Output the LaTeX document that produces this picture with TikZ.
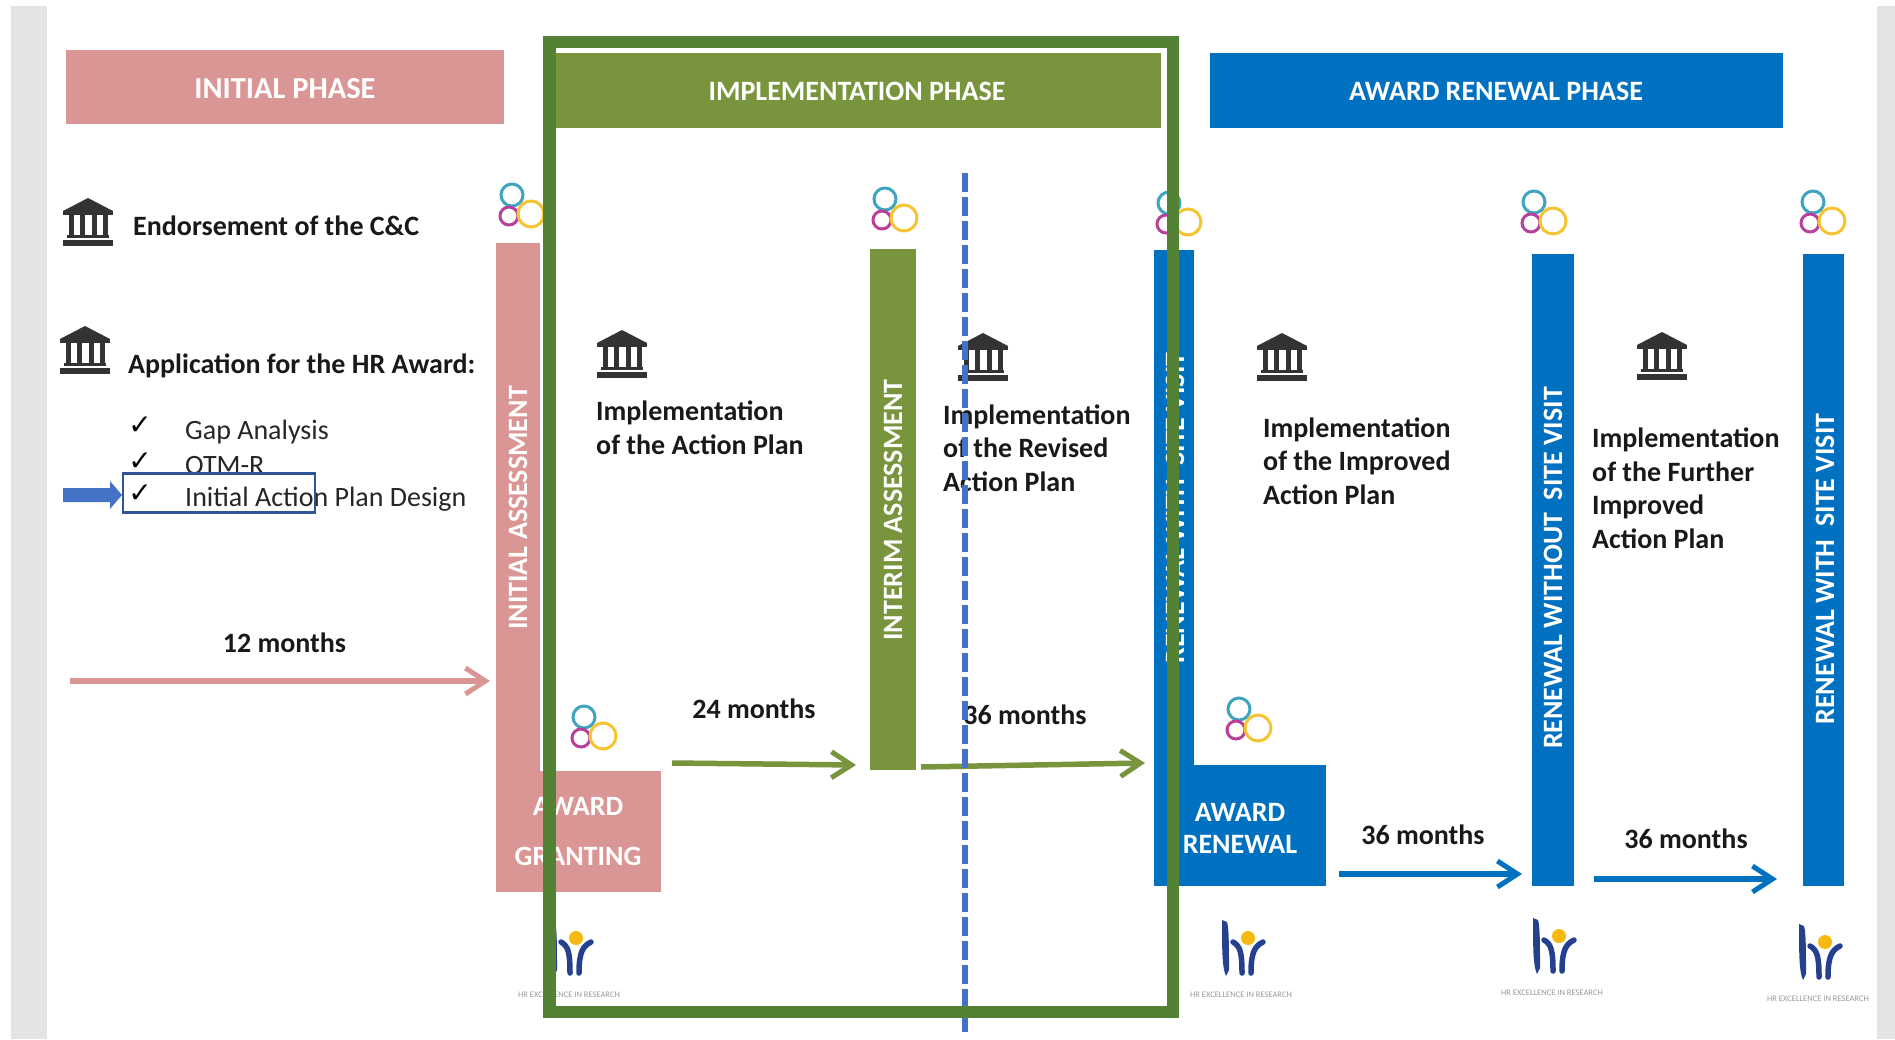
\documentclass[tikz,border=0pt]{standalone}
\usepackage{fontspec}
\setmainfont{Carlito}
\newfontfamily\symfont{DejaVu Sans}
\usetikzlibrary{arrows.meta}
\definecolor{pinkc}{HTML}{DA9694}
\definecolor{olivec}{HTML}{78943C}
\definecolor{framec}{HTML}{548235}
\definecolor{bluec}{HTML}{0070C0}
\definecolor{dashc}{HTML}{4472C4}
\definecolor{boxc}{HTML}{2F5597}
\definecolor{stripc}{HTML}{E4E4E4}
\definecolor{iconc}{HTML}{333333}
\definecolor{tealc}{HTML}{3FA5BE}
\definecolor{magc}{HTML}{B8409B}
\definecolor{yelc}{HTML}{F5C430}
\definecolor{navyc}{HTML}{25408F}
\definecolor{dotc}{HTML}{F7B90F}
\tikzset{
  panel/.style={inner sep=0pt,outer sep=0pt,align=center,text=white,font=\fontsize{28}{32}\selectfont\bfseries},
  bartext/.style={inner sep=0pt,rotate=90,text=white,font=\fontsize{28}{30}\selectfont\bfseries},
  label/.style={inner sep=0pt,anchor=west,align=left,text=black!90,font=\fontsize{28}{33.5}\selectfont\bfseries},
  months/.style={inner sep=0pt,text=black!90,font=\fontsize{28}{30}\selectfont\bfseries},
  item/.style={inner sep=0pt,anchor=west,text=black!85,font=\fontsize{28}{30}\selectfont},
  tick/.style={inner sep=0pt,text=black,font=\fontsize{28}{30}\selectfont\symfont},
  flow/.style={line width=5.5pt,-{Straight Barb[length=20pt,width=26pt,line width=5pt]}},
  bankicon/.pic={
    \fill[iconc] (-25,-11) -- (0,-24) -- (25,-11) -- cycle;
    \fill[iconc] (-25,-11) rectangle (25,-7);
    \foreach \cx in {-17,-6,6,17} \fill[iconc] (\cx-2.5,-7) rectangle (\cx+2.5,13);
    \fill[iconc] (-21,13) rectangle (21,16);
    \fill[iconc] (-25,18) rectangle (25,24);
  },
  ringsicon/.pic={
    \draw[tealc,line width=3pt] (-9,-10) circle[radius=11pt];
    \draw[magc,line width=3pt] (-12,11) circle[radius=9pt];
    \draw[yelc,line width=3pt] (10,9) circle[radius=13pt];
  },
  hrmark/.pic={
    \fill[dotc] (0,0) circle[radius=7pt];
    \fill[navyc] (-26,-18) -- (-21,-16) .. controls (-19,-10) and (-19,10) .. (-19,32) -- (-22,38) .. controls (-26,30) and (-26,10) .. (-26,-18) -- cycle;
    \draw[navyc,line width=5.5pt,line cap=round] (-15,4) .. controls (-8,8) and (-6,14) .. (-6,35);
    \draw[navyc,line width=5.5pt,line cap=round] (15,4) .. controls (7,8) and (3,14) .. (3,35);
    \node[inner sep=0pt,text=black!40,font=\fontsize{8.5}{9}\selectfont] at (-7,57) {HR EXCELLENCE IN RESEARCH};
  }
}
\begin{document}
\begin{tikzpicture}[x=1pt,y=-1pt]
\useasboundingbox (0,0) rectangle (1895,1039);
\fill[white] (0,0) rectangle (1895,1039);
\fill[stripc] (11,6) rectangle (47,1039);
\fill[stripc] (1877,6) rectangle (1895,1039);

% phase headers
\node[panel,fill=pinkc,minimum width=438pt,minimum height=74pt] (hinit) at (285,87) {};
\node[panel,font=\fontsize{30.5}{32}\selectfont\bfseries] (hinitt) at (285,89) {INITIAL PHASE};
\node[panel,fill=olivec,minimum width=604.5pt,minimum height=75pt] (himpl) at (858.25,90.5) {};
\node[panel] (himplt) at (857,91.5) {IMPLEMENTATION PHASE};
\node[panel,fill=bluec,minimum width=573pt,minimum height=75pt] (hrenew) at (1496.5,90.5) {};
\node[panel] (hrenewt) at (1496,91.5) {AWARD RENEWAL PHASE};

% bars
\node[panel,fill=pinkc,minimum width=44.5pt,minimum height=649pt] (barinit) at (517.75,567.5) {};
\node[panel,fill=pinkc,minimum width=165.5pt,minimum height=121pt] (granting) at (578.25,831.5) {};
\node[panel] (grantingA) at (578,806) {AWARD};
\node[panel] (grantingB) at (578,856) {GRANTING};
\node[panel,fill=olivec,minimum width=46pt,minimum height=521pt] (barinterim) at (893,509.5) {};
\node[panel,fill=bluec,minimum width=40pt,minimum height=636pt] (barrenew) at (1174,568) {};
\node[panel,fill=bluec,minimum width=172pt,minimum height=121pt] (renewbox) at (1240,825.5) {};
\node[panel] (renewA) at (1240,812) {AWARD};
\node[panel] (renewB) at (1240,844) {RENEWAL};
\node[panel,fill=bluec,minimum width=42pt,minimum height=632pt] (barwo) at (1553,570) {};
\node[panel,fill=bluec,minimum width=41pt,minimum height=632pt] (barwith) at (1823.5,570) {};

\node[bartext] (tinit) at (518,508) {INITIAL ASSESSMENT};
\node[bartext] (tinterim) at (893,510) {INTERIM ASSESSMENT};
\node[bartext] (trenew) at (1175,508) {RENEWAL WITH\ \ SITE VISIT};
\node[bartext] (two) at (1553,568) {RENEWAL WITHOUT\ \ SITE VISIT};
\node[bartext] (twith) at (1825,569) {RENEWAL WITH\ \ SITE VISIT};

% left column
\node[label] (endorse) at (133,226) {Endorsement of the C\&C};
\node[label] (apply) at (128,366) {Application for the HR Award:};
\node[tick] (t1) at (140,426) {✓};
\node[tick] (t2) at (140,462) {✓};
\node[tick] (t3) at (140,494) {✓};
\node[item] (gap) at (185,432.5) {Gap Analysis};
\begin{scope}
  \clip (170,440) rectangle (320,473);
  \node[item] (otm) at (185,466) {OTM-R};
\end{scope}
\node[item] (iap) at (185,499.5) {Initial Action Plan Design};
\node[draw=boxc,line width=2.5pt,inner sep=0pt,minimum width=192pt,minimum height=39pt] (hibox) at (219,493) {};
\fill[dashc] (63,488) -- (110,488) -- (110,481) -- (122,495) -- (110,509) -- (110,502) -- (63,502) -- cycle;

% implementation labels
\node[label] (impA) at (596,428) {Implementation\\of the Action Plan};
\node[label] (impB) at (943,448) {Implementation\\of the Revised\\Action Plan};
\node[label] (impC) at (1263,461) {Implementation\\of the Improved\\Action Plan};
\node[label] (impD) at (1592,488) {Implementation\\of the Further\\Improved\\Action Plan};

% durations
\node[months] (m12) at (284.5,642.5) {12 months};
\node[months] (m24) at (754,709) {24 months};
\node[months] (m36a) at (1025,715) {36 months};
\node[months] (m36b) at (1423,835) {36 months};
\node[months] (m36c) at (1686,839) {36 months};

% icons
\pic at (88,222) {bankicon};
\pic at (85,350) {bankicon};
\pic at (622,354) {bankicon};
\pic at (983,357) {bankicon};
\pic at (1282,357) {bankicon};
\pic at (1662,356) {bankicon};
\pic at (521,205) {ringsicon};
\pic at (894,209) {ringsicon};
\pic at (1178,213) {ringsicon};
\pic at (1543,212) {ringsicon};
\pic at (1822,212) {ringsicon};
\pic at (593,727) {ringsicon};
\pic at (1248,719) {ringsicon};
\pic at (576,938) {hrmark};
\pic at (1248,938) {hrmark};
\pic at (1559,936) {hrmark};
\pic at (1825,942) {hrmark};

% arrows
\coordinate (a1s) at (70,681);
\coordinate (a1e) at (490,681);
\coordinate (a2s) at (672,763);
\coordinate (a2e) at (856,765);
\coordinate (a3s) at (921,767);
\coordinate (a3e) at (1145,763);
\coordinate (a4s) at (1339,874);
\coordinate (a4e) at (1522,874);
\coordinate (a5s) at (1594,879);
\coordinate (a5e) at (1777,879);
\draw[flow,pinkc] (a1s) -- (a1e);
\draw[flow,olivec] (a2s) -- (a2e);
\draw[flow,olivec] (a3s) -- (a3e);
\draw[flow,bluec] (a4s) -- (a4e);
\draw[flow,bluec] (a5s) -- (a5e);

% dashed divider
\coordinate (ds) at (964.5,173);
\coordinate (de) at (964.5,1034);
\draw[dashc,line width=6pt,dash pattern=on 19pt off 5pt] (ds) -- (de);

% implementation frame
\node[draw=framec,line width=12.5pt,inner sep=0pt,outer sep=0pt,minimum width=623.5pt,minimum height=970pt] (frame) at (861,527) {};
\end{tikzpicture}
\end{document}
